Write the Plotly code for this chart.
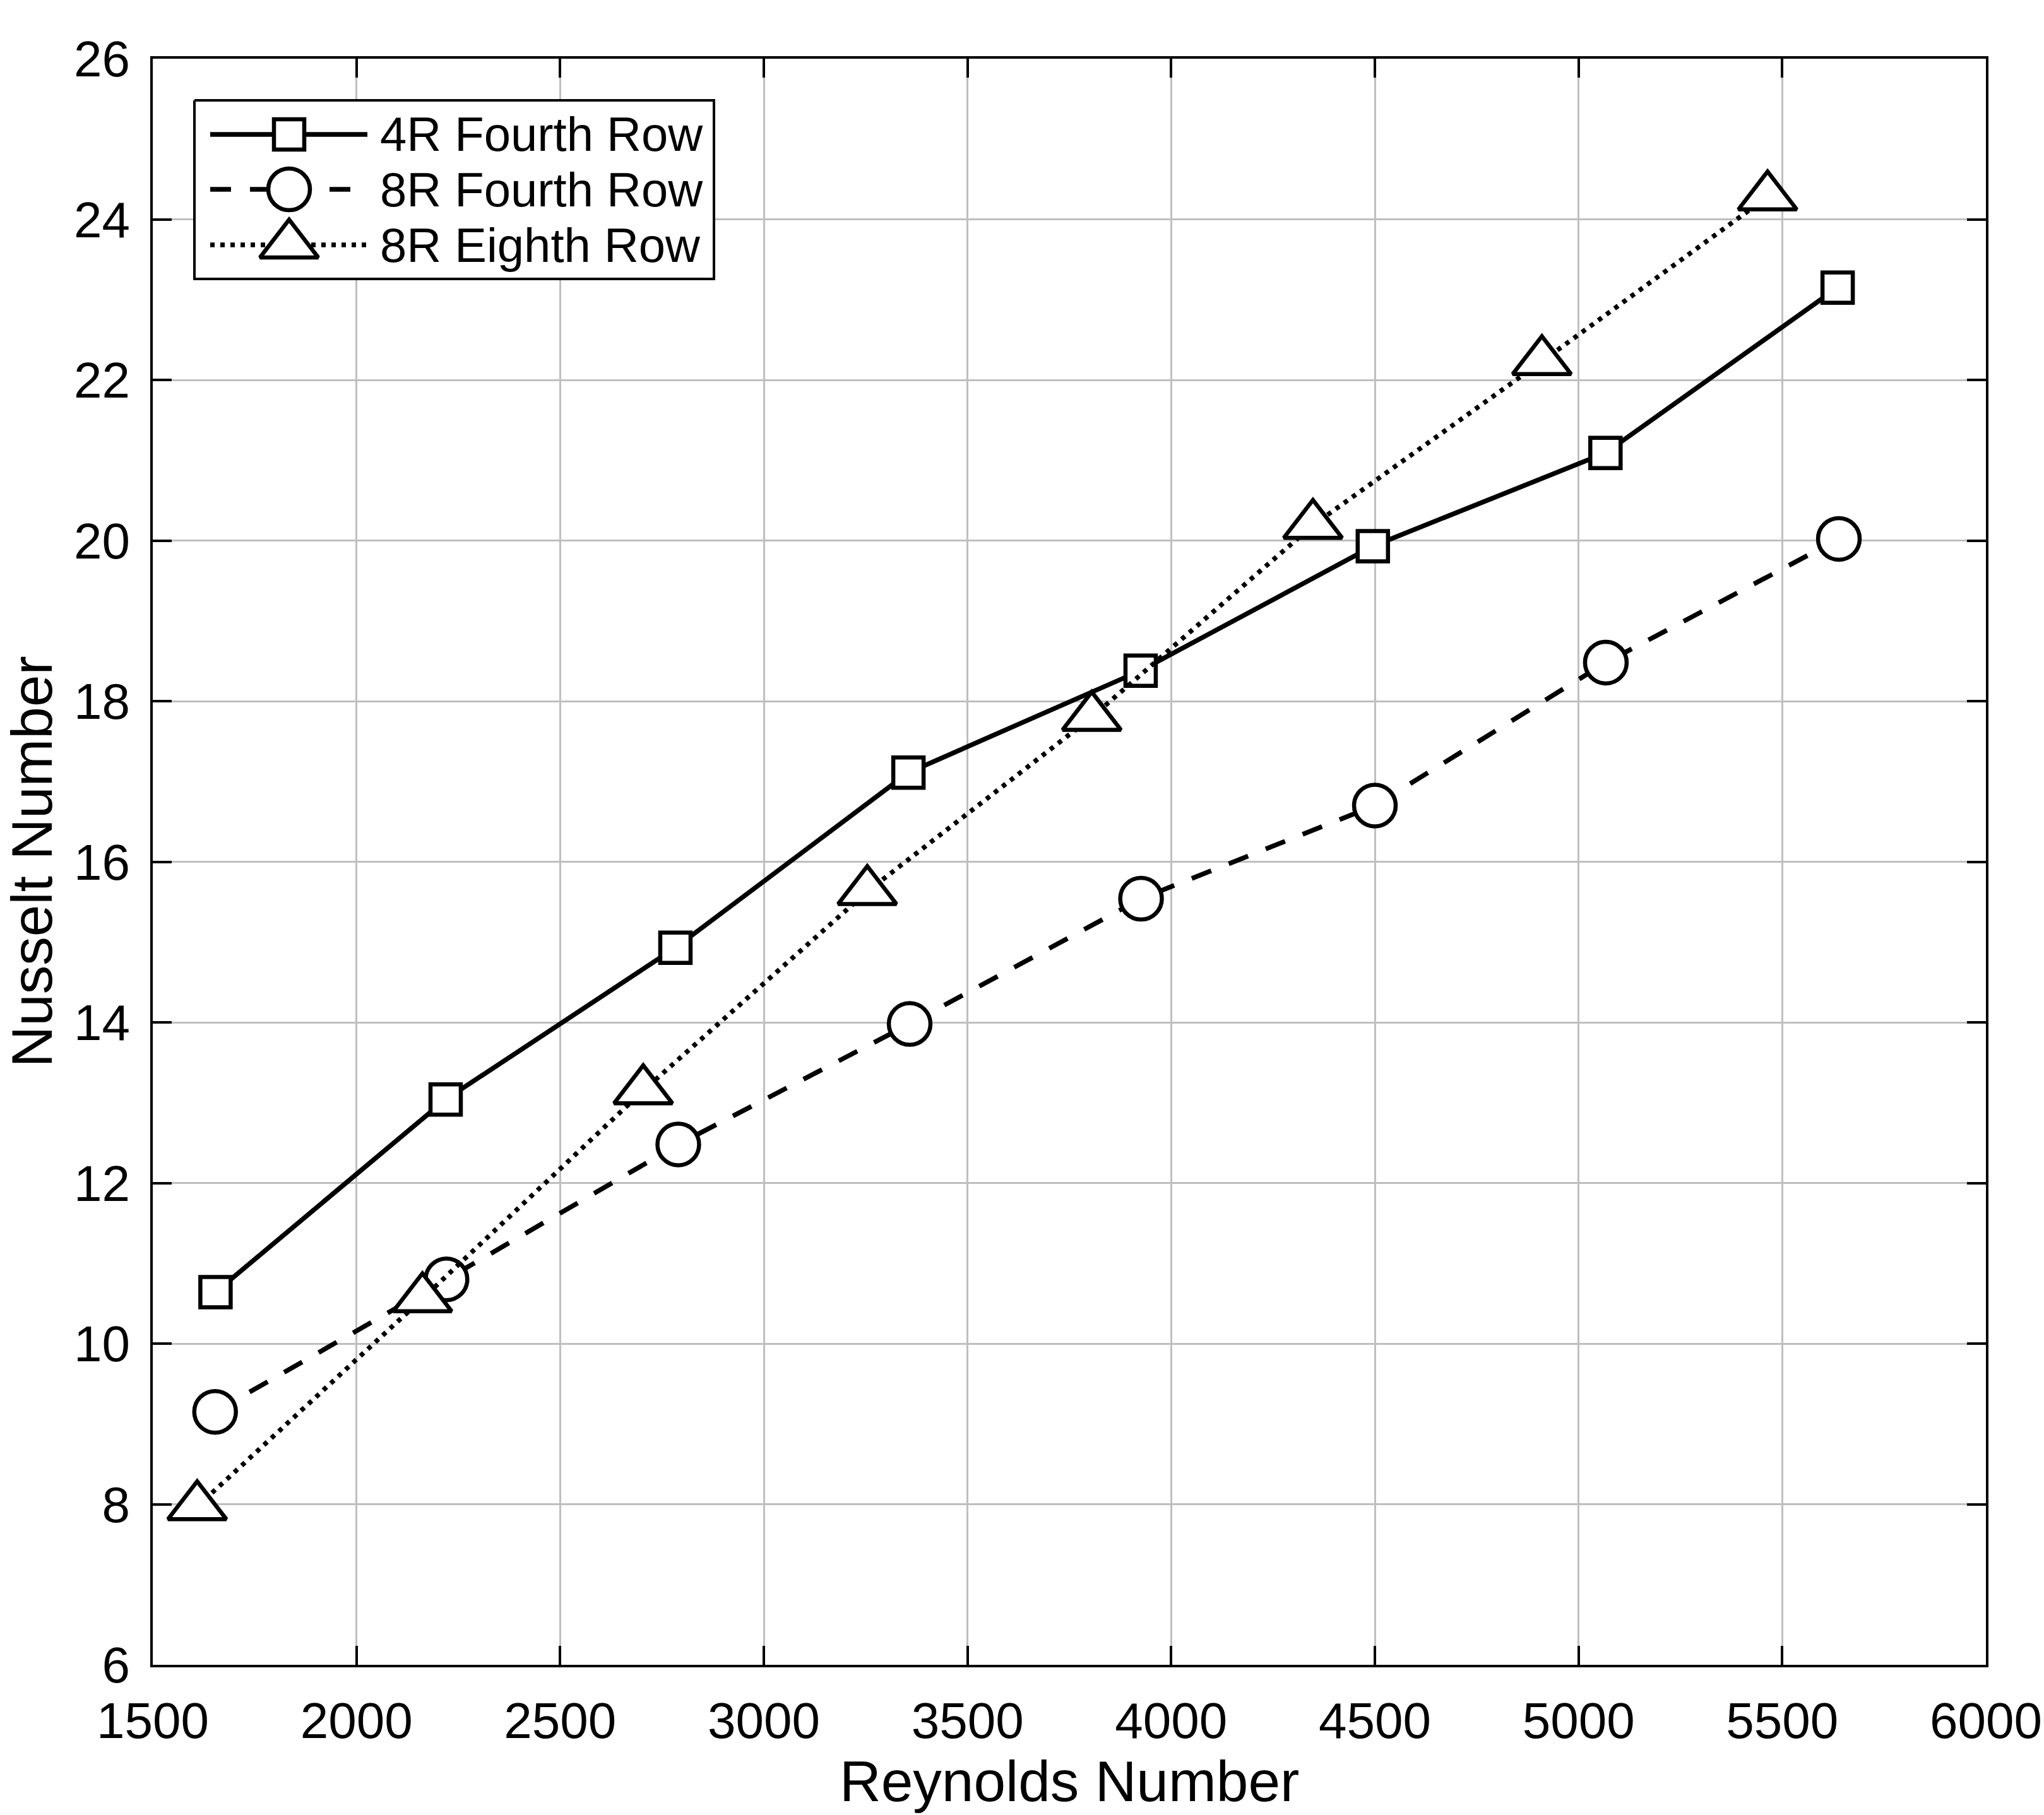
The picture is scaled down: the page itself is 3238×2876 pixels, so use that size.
import plotly.graph_objects as go

# ---------------- data ----------------
x_label = "Reynolds Number"
y_label = "Nusselt Number"
series_names = ["4R Fourth Row", "8R Fourth Row", "8R Eighth Row"]

re_4r_4th = [1654, 2219, 2783, 3355, 3925, 4495, 5066, 5636]
nu_4r_4th = [10.64, 13.04, 14.93, 17.11, 18.38, 19.93, 21.09, 23.15]

re_8r_4th = [1653, 2221, 2790, 3358, 3926, 4500, 5067, 5639]
nu_8r_4th = [9.15, 10.80, 12.48, 13.98, 15.54, 16.70, 18.48, 20.02]

re_8r_8th = [1609, 2162, 2704, 3254, 3805, 4348, 4910, 5464]
nu_8r_8th = [7.97, 10.56, 13.15, 15.63, 17.80, 20.19, 22.23, 24.28]

x_ticks = [1500, 2000, 2500, 3000, 3500, 4000, 4500, 5000, 5500, 6000]
y_ticks = [6, 8, 10, 12, 14, 16, 18, 20, 22, 24, 26]

# ---------------- styling ----------------
W, H = 3238, 2876
PL, PT, PR, PB = 242, 93, 3146, 2638  # plot area in page pixels
ML, MT = PL, PT
PW, PH = PR - PL, PB - PT
MR, MB = W - ML - PW, H - MT - PH
FONT = "Liberation Sans, Arial, Helvetica, sans-serif"
LW = 7.5
MLW = 6.5
styles = [
    dict(dash="solid", symbol="square", size=48),
    dict(dash="33px,30px", symbol="circle", size=66),
    dict(dash="7px,9px", symbol="triangle-up", size=80),
]
series = [(re_4r_4th, nu_4r_4th), (re_8r_4th, nu_8r_4th), (re_8r_8th, nu_8r_8th)]


def fx(px):
    """page pixel x -> plot-area fraction"""
    return (px - PL) / PW


def fy(py):
    """page pixel y -> plot-area fraction"""
    return (PB - py) / PH


fig = go.Figure()

for (xs, ys), name, st in zip(series, series_names, styles):
    fig.add_trace(go.Scatter(
        x=xs, y=ys, name=name, mode="lines+markers",
        line=dict(color="black", width=LW, dash=st["dash"]),
        marker=dict(symbol=st["symbol"], size=st["size"], color="white",
                    line=dict(color="black", width=MLW)),
        showlegend=False, cliponaxis=False,
    ))

# ---------------- custom legend (overlay axes in plot-area fractions) ----------------
box_l, box_t, box_r, box_b = 308, 159, 1131, 442
fig.add_trace(go.Scatter(
    x=[fx(box_l), fx(box_r), fx(box_r), fx(box_l), fx(box_l)],
    y=[fy(box_t), fy(box_t), fy(box_b), fy(box_b), fy(box_t)],
    mode="lines", fill="toself", fillcolor="white",
    line=dict(color="black", width=4), xaxis="x2", yaxis="y2",
    showlegend=False, hoverinfo="skip",
))
row_y = [213, 300, 388]
for ry, name, st in zip(row_y, series_names, styles):
    fig.add_trace(go.Scatter(
        x=[fx(333), fx(582)], y=[fy(ry), fy(ry)], mode="lines",
        line=dict(color="black", width=LW, dash=st["dash"]),
        xaxis="x2", yaxis="y2", showlegend=False, hoverinfo="skip",
    ))
    fig.add_trace(go.Scatter(
        x=[fx(458)], y=[fy(ry)], mode="markers",
        marker=dict(symbol=st["symbol"], size=st["size"], color="white",
                    line=dict(color="black", width=MLW)),
        xaxis="x2", yaxis="y2", showlegend=False, hoverinfo="skip",
    ))
    fig.add_annotation(
        x=fx(600), y=fy(ry), xref="paper", yref="paper", text=name,
        showarrow=False, xanchor="left", yanchor="middle",
        font=dict(family=FONT, size=76, color="black"),
    )

# axis titles
fig.add_annotation(x=0.5, y=fy(2822), xref="paper", yref="paper", text=x_label,
                   showarrow=False, xanchor="center", yanchor="middle",
                   font=dict(family=FONT, size=91, color="black"))
fig.add_annotation(x=fx(50), y=0.5, xref="paper", yref="paper", text=y_label,
                   showarrow=False, xanchor="center", yanchor="middle", textangle=-90,
                   font=dict(family=FONT, size=91, color="black"))

axis_common = dict(
    showline=True, linecolor="black", linewidth=4, mirror="ticks",
    ticks="inside", ticklen=30, tickwidth=4, tickcolor="black",
    showgrid=True, gridcolor="#bfbfbf", gridwidth=3, zeroline=False,
    automargin=False,
    tickfont=dict(family=FONT, size=80, color="black"),
)
fig.update_layout(
    width=W, height=H, autosize=False,
    margin=dict(l=ML, r=MR, t=MT, b=MB, pad=0, autoexpand=False),
    paper_bgcolor="white", plot_bgcolor="white",
    font=dict(family=FONT, color="black"),
    xaxis=dict(range=[1500, 6000], tickvals=x_ticks, ticktext=[str(v) for v in x_ticks],
               ticklabelstandoff=16, **axis_common),
    yaxis=dict(range=[6, 26], tickvals=y_ticks, ticktext=[str(v) for v in y_ticks],
               ticklabelstandoff=16, **axis_common),
    xaxis2=dict(range=[0, 1], overlaying="x", visible=False, fixedrange=True),
    yaxis2=dict(range=[0, 1], overlaying="y", visible=False, fixedrange=True),
    showlegend=False,
)

# remove the default page margin so the figure fills the window exactly
fig.write_html("out.html",
               config={"displayModeBar": False},
               post_script="document.body.style.margin='0px';"
                           "document.documentElement.style.overflow='hidden';")
